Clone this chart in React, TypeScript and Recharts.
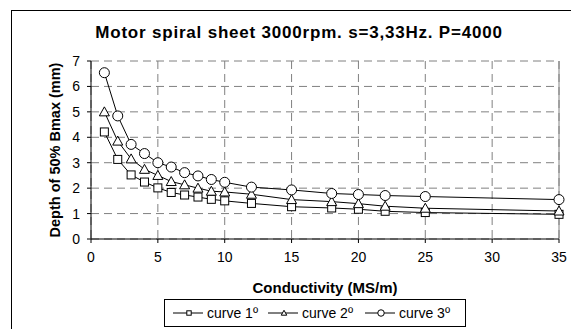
import React from "react";
import {
  LineChart, Line, XAxis, YAxis, CartesianGrid, ReferenceLine, Label,
} from "recharts";

const xValues = [1, 2, 3, 4, 5, 6, 7, 8, 9, 10, 12, 15, 18, 20, 22, 25, 35];
const curve1 = [4.21, 3.13, 2.52, 2.24, 2.01, 1.83, 1.73, 1.65, 1.56, 1.5, 1.4, 1.27, 1.22, 1.17, 1.09, 1.04, 0.97];
const curve2 = [5.0, 3.85, 3.15, 2.74, 2.5, 2.26, 2.13, 2.0, 1.88, 1.85, 1.76, 1.55, 1.47, 1.39, 1.29, 1.21, 1.1];
const curve3 = [6.54, 4.84, 3.72, 3.36, 3.0, 2.83, 2.61, 2.48, 2.34, 2.23, 2.04, 1.93, 1.79, 1.75, 1.71, 1.67, 1.55];
const xTicks = [0, 5, 10, 15, 20, 25, 30, 35];
const yTicks = [0, 1, 2, 3, 4, 5, 6, 7];
const seriesNames = ["curve 1º", "curve 2º", "curve 3º"];

const data = xValues.map((x, i) => ({ x, c1: curve1[i], c2: curve2[i], c3: curve3[i] }));

const FONT = "'Liberation Sans', Arial, sans-serif";

type Pt = { cx: number; cy: number; s?: number };

function Square({ cx, cy, s = 1 }: Pt) {
  const h = 4 * s;
  return <rect x={cx - h} y={cy - h} width={2 * h} height={2 * h} fill="#fff" stroke="#000" strokeWidth={1} />;
}
function Triangle({ cx, cy, s = 1 }: Pt) {
  return (
    <polygon
      points={`${cx},${cy - 5 * s} ${cx + 5 * s},${cy + 4 * s} ${cx - 5 * s},${cy + 4 * s}`}
      fill="#fff" stroke="#000" strokeWidth={1}
    />
  );
}
function Circle({ cx, cy, s = 1 }: Pt) {
  return <circle cx={cx} cy={cy} r={5 * s} fill="#fff" stroke="#000" strokeWidth={1} />;
}
const markers = [Square, Triangle, Circle];
const legendLefts = [8, 103, 200];
const legendScale = [0.55, 0.55, 0.65];

function LegendBox() {
  return (
    <div
      style={{
        position: "absolute", left: 164, top: 299, width: 302, height: 28,
        border: "1px solid #000", background: "#fff", fontFamily: FONT, fontSize: 14,
        boxSizing: "border-box",
      }}
    >
      {seriesNames.map((name, i) => {
        const M = markers[i];
        return (
          <div key={name} style={{ position: "absolute", left: legendLefts[i], top: 5, display: "flex", alignItems: "center" }}>
            <svg width={30} height={16}>
              <line x1={0} y1={8} x2={30} y2={8} stroke="#000" />
              <M cx={16} cy={8} s={legendScale[i]} />
            </svg>
            <span style={{ marginLeft: 4, lineHeight: "16px" }}>{name}</span>
          </div>
        );
      })}
    </div>
  );
}

export default function App() {
  const keys = ["c1", "c2", "c3"];
  return (
    <div style={{ position: "fixed", left: 0, top: 0, width: 571, height: 329, background: "#fff", overflow: "hidden" }}>
      <div style={{ position: "absolute", left: 11, top: 10, width: 600, height: 400, border: "1px solid #000" }} />
      <div
        style={{
          position: "absolute", left: 0, width: 598, top: 23, textAlign: "center", lineHeight: "20px",
          fontFamily: FONT, fontWeight: "bold", fontSize: 17, letterSpacing: 0.8,
        }}
      >
        Motor spiral sheet 3000rpm. s=3,33Hz. P=4000
      </div>
      <div style={{ position: "absolute", left: 0, top: 0 }}>
        <LineChart width={571} height={329} data={data} margin={{ top: 61, right: 12, bottom: 34, left: 51 }}>
          <CartesianGrid stroke="#808080" strokeDasharray="8 5" />
          <ReferenceLine x={35} stroke="#808080" />
          <XAxis
            type="number" dataKey="x" domain={[0, 35]} ticks={xTicks} interval={0}
            axisLine={{ stroke: "#000" }} tickLine={{ stroke: "#000" }} tickSize={4} tickMargin={9}
            tick={{ fill: "#000", fontSize: 14, fontFamily: FONT }} height={56}
          >
            <Label value="Conductivity (MS/m)" position="insideBottom" offset={2}
              style={{ fontWeight: "bold", fontSize: 15, fontFamily: FONT, fill: "#000" }} />
          </XAxis>
          <YAxis
            domain={[0, 7]} ticks={yTicks} interval={0} width={40}
            axisLine={{ stroke: "#000" }} tickLine={{ stroke: "#000" }} tickSize={4} tickMargin={7}
            tick={{ fill: "#000", fontSize: 14, fontFamily: FONT }}
          >
            <Label value="Depth of 50% Bmax (mm)" angle={-90} position="insideLeft" offset={4}
              style={{ fontWeight: "bold", fontSize: 14.5, fontFamily: FONT, fill: "#000", textAnchor: "middle" }} />
          </YAxis>
          {keys.map((k, i) => {
            const M = markers[i];
            return (
              <Line
                key={k} type="linear" dataKey={k} stroke="#000" strokeWidth={1}
                isAnimationActive={false}
                dot={(p: any) => <M key={`${k}-${p.index}`} cx={p.cx} cy={p.cy} />}
              />
            );
          })}
        </LineChart>
      </div>
      <LegendBox />
    </div>
  );
}
